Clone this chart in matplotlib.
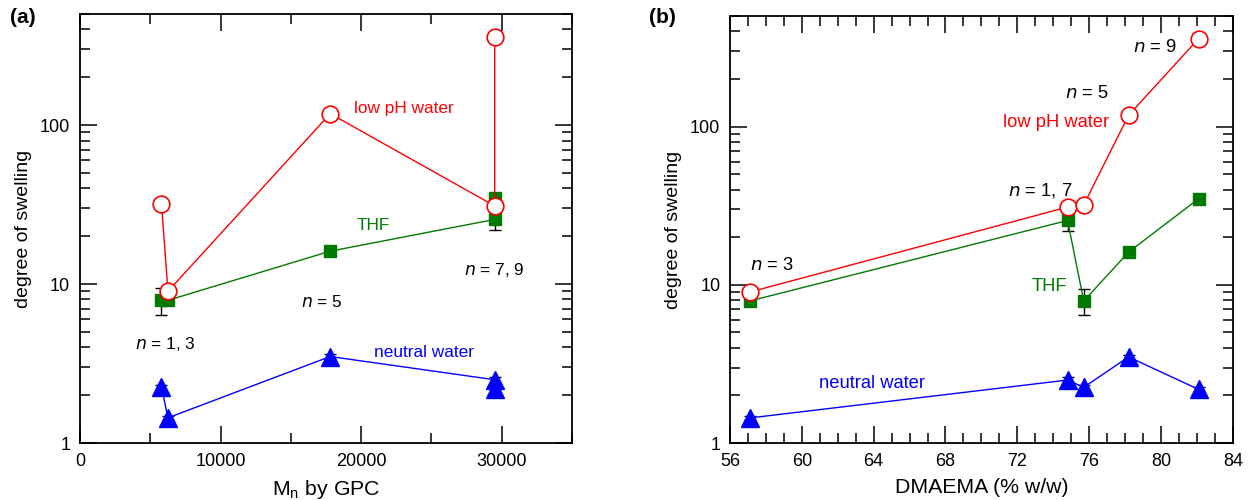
import numpy as np
import matplotlib
matplotlib.use("Agg")
import matplotlib.pyplot as plt
from matplotlib.ticker import MultipleLocator, LogLocator, NullFormatter, FixedLocator

plt.rcParams['font.family'] = ['Liberation Sans', 'DejaVu Sans']

# one entry per sample, n = 1, 3, 5, 7, 9
n_labels = [1, 3, 5, 7, 9]
mn_gpc = [5800, 6260, 17800, 29500, 29500]
dmaema = [75.7, 57.1, 78.2, 74.8, 82.1]

low_ph = [32.0, 9.0, 118.0, 31.0, 360.0]
low_ph_err = [1.5, 0.5, 5.0, 1.5, 15.0]
thf = [7.9, 7.9, 16.1, 25.5, 35.0]
thf_err = [1.5, 0.3, 0.6, 3.5, 2.5]
neutral = [2.25, 1.44, 3.5, 2.5, 2.18]
neutral_err = [0.08, 0.04, 0.12, 0.1, 0.08]

RED = "#ff0000"
GREEN = "#007a00"
BLUE = "#0000ff"


def draw_series(ax, x, order):
    xs = [x[i] for i in order]
    for vals, errs, color, kw in [
        (thf, thf_err, GREEN, dict(marker="s", ms=8, mfc=GREEN, mec=GREEN)),
        (low_ph, low_ph_err, RED, dict(marker="o", ms=12, mfc="white", mec=RED, mew=1.2)),
        (neutral, neutral_err, BLUE, dict(marker="^", ms=13, mfc=BLUE, mec=BLUE)),
    ]:
        ys = [vals[i] for i in order]
        es = [errs[i] for i in order]
        ax.errorbar(xs, ys, yerr=es, fmt="none", ecolor="black", elinewidth=1,
                    capsize=4, capthick=1, zorder=2)
        ax.plot(xs, ys, color=color, lw=1, zorder=3, **kw)


def style_axes(ax):
    ax.set_yscale("log")
    ax.set_ylim(1, 500)
    ax.yaxis.set_major_locator(FixedLocator([1, 10, 100]))
    ax.yaxis.set_minor_locator(LogLocator(base=10, subs=np.arange(2, 10)))
    ax.yaxis.set_minor_formatter(NullFormatter())
    ax.set_yticklabels(["1", "10", "100"])
    ax.tick_params(which="both", direction="in", top=True, right=True,
                   labelsize=13, width=1.1, pad=7)
    ax.tick_params(which="major", length=12)
    ax.tick_params(which="minor", length=7.5)
    for s in ax.spines.values():
        s.set_linewidth(1.3)
    ax.set_ylabel("degree of swelling", fontsize=14, labelpad=6)


fig = plt.figure(figsize=(12.49, 5), dpi=100)
ax1 = fig.add_axes([0.064, 0.114, 0.394, 0.858])
ax2 = fig.add_axes([0.5845, 0.114, 0.4025, 0.854])

# (a) vs Mn
order_a = sorted(range(len(n_labels)), key=lambda i: (mn_gpc[i], low_ph[i]))
draw_series(ax1, mn_gpc, order_a)
style_axes(ax1)
ax1.set_xlim(0, 35000)
ax1.xaxis.set_major_locator(MultipleLocator(10000))
ax1.xaxis.set_minor_locator(MultipleLocator(5000))
ax1.set_xlabel("M$_\\mathregular{n}$ by GPC", fontsize=15.3, labelpad=6)

fs_a = 12.4
ax1.text(19500, 128, "low pH water", color=RED, fontsize=fs_a, va="center")
ax1.text(19700, 23.2, "THF", color=GREEN, fontsize=fs_a, va="center")
ax1.text(20900, 3.7, "neutral water", color=BLUE, fontsize=fs_a, va="center")
ax1.text(3900, 4.2, "$n$ = 1, 3", fontsize=fs_a, va="center")
ax1.text(15700, 7.7, "$n$ = 5", fontsize=fs_a, va="center")
ax1.text(27300, 12.3, "$n$ = 7, 9", fontsize=fs_a, va="center")
fig.text(0.008, 0.965, "(a)", fontsize=15, fontweight="bold", va="center")

# (b) vs DMAEMA
order_b = sorted(range(len(n_labels)), key=lambda i: dmaema[i])
draw_series(ax2, dmaema, order_b)
style_axes(ax2)
ax2.set_xlim(56, 84)
ax2.xaxis.set_major_locator(MultipleLocator(4))
ax2.xaxis.set_minor_locator(MultipleLocator(1))
ax2.set_xlabel("DMAEMA (% w/w)", fontsize=15.3, labelpad=6)

fs_b = 13.2
ax2.text(77.1, 106, "low pH water", color=RED, fontsize=fs_b, va="center", ha="right")
ax2.text(74.8, 9.8, "THF", color=GREEN, fontsize=fs_b, va="center", ha="right")
ax2.text(60.95, 2.38, "neutral water", color=BLUE, fontsize=fs_b, va="center")
ax2.text(57.1, 13.3, "$n$ = 3", fontsize=fs_b, va="center")
ax2.text(73.3, 39.5, "$n$ = 1, 7", fontsize=fs_b, va="center", ha="center")
ax2.text(77.1, 162, "$n$ = 5", fontsize=fs_b, va="center", ha="right")
ax2.text(80.9, 318, "$n$ = 9", fontsize=fs_b, va="center", ha="right")
fig.text(0.52, 0.965, "(b)", fontsize=15, fontweight="bold", va="center")

fig.savefig("out.png", dpi=100)
